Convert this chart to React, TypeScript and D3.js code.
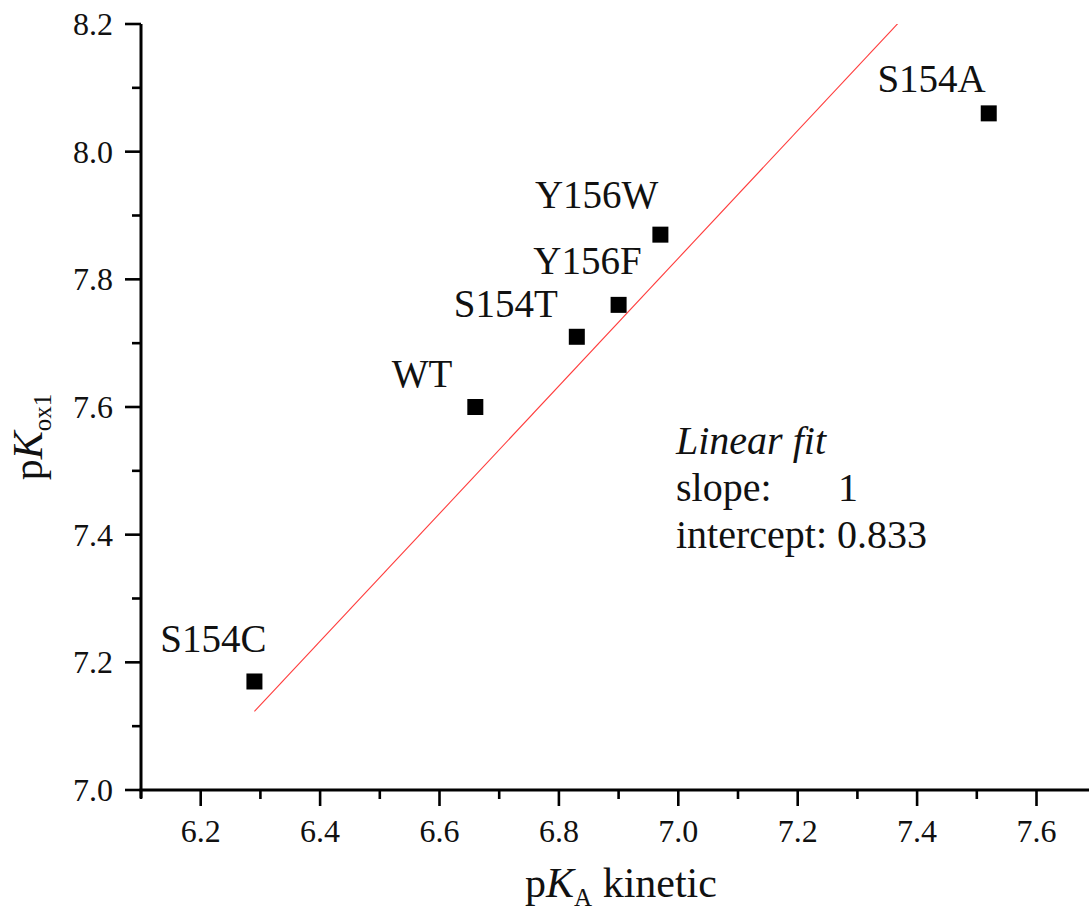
import React from "react";
import * as d3 from "d3";

const mutants = ["S154C", "WT", "S154T", "Y156F", "Y156W", "S154A"];
const pKaKinetic = [6.29, 6.66, 6.83, 6.9, 6.97, 7.52];
const pKox1 = [7.17, 7.6, 7.71, 7.76, 7.87, 8.06];
const xMajorTicks = [6.2, 6.4, 6.6, 6.8, 7.0, 7.2, 7.4, 7.6];
const xMinorTicks = [6.1, 6.3, 6.5, 6.7, 6.9, 7.1, 7.3, 7.5, 7.7];
const yMajorTicks = [7.0, 7.2, 7.4, 7.6, 7.8, 8.0, 8.2];
const yMinorTicks = [7.1, 7.3, 7.5, 7.7, 7.9, 8.1];
const fitSlope = 1;
const fitIntercept = 0.833;

// label offsets (text end relative to marker centre)
const labelDx = [12, -23, -19, 23, -2, -3];
const labelDy = [-29, -20, -20, -31, -27, -21];

const FONT = "'Liberation Serif', 'Times New Roman', Times, serif";

export default function App() {
  const W = 1089, H = 919;
  const x = d3.scaleLinear().domain([6.1, 7.7]).range([141, 141 + 1.6 * 597]);
  const y = d3.scaleLinear().domain([7.0, 8.2]).range([790, 24]);
  const x0 = x(6.1), y0 = y(7.0);

  const fx0 = d3.min(pKaKinetic) as number;
  const fx1 = d3.max(pKaKinetic) as number;
  const fitLine = d3.line<number>()
    .x((d) => x(d))
    .y((d) => y(fitSlope * d + fitIntercept))([fx0, fx1]);

  const ms = 16;
  return (
    <svg width={W} height={H} style={{ position: "absolute", left: 0, top: 0, background: "#fff" }} fontFamily={FONT}>
      <rect x={0} y={0} width={W} height={H} fill="#fff" />
      <defs>
        <clipPath id="plotClip">
          <rect x={x0} y={y(8.2)} width={W - x0} height={y0 - y(8.2)} />
        </clipPath>
      </defs>

      {/* fit line */}
      <path d={fitLine || ""} stroke="#ff3b3b" strokeWidth={1.1} fill="none" clipPath="url(#plotClip)" />

      {/* axes */}
      <line x1={x0} x2={x0} y1={y(8.2)} y2={y0 + 8} stroke="#000" strokeWidth={3} />
      <line x1={x0 - 1.5} x2={W + 20} y1={y0} y2={y0} stroke="#000" strokeWidth={3} />

      {xMajorTicks.map((t) => (
        <g key={"xM" + t}>
          <line x1={x(t)} x2={x(t)} y1={y0} y2={y0 + 16} stroke="#000" strokeWidth={2.6} />
          <text x={x(t)} y={842} fontSize={32} textAnchor="middle" fill="#111">{t.toFixed(1)}</text>
        </g>
      ))}
      {xMinorTicks.map((t) => (
        <line key={"xm" + t} x1={x(t)} x2={x(t)} y1={y0} y2={y0 + 9} stroke="#000" strokeWidth={2.6} />
      ))}
      {yMajorTicks.map((t) => (
        <g key={"yM" + t}>
          <line x1={x0 - 16} x2={x0} y1={y(t)} y2={y(t)} stroke="#000" strokeWidth={2.6} />
          <text x={113} y={y(t) + 11} fontSize={32} textAnchor="end" fill="#111">{t.toFixed(1)}</text>
        </g>
      ))}
      {yMinorTicks.map((t) => (
        <line key={"ym" + t} x1={x0 - 9} x2={x0} y1={y(t)} y2={y(t)} stroke="#000" strokeWidth={2.6} />
      ))}

      {/* markers */}
      {mutants.map((m, i) => (
        <rect key={"p" + m} x={x(pKaKinetic[i]) - ms / 2} y={y(pKox1[i]) - ms / 2} width={ms} height={ms} fill="#000" />
      ))}
      {mutants.map((m, i) => (
        <text key={"l" + m} x={x(pKaKinetic[i]) + labelDx[i]} y={y(pKox1[i]) + labelDy[i]}
          fontSize={39} textAnchor="end" fill="#111">{m}</text>
      ))}

      {/* annotation */}
      <text x={676} y={454} fontSize={40} fill="#111" fontStyle="italic">Linear fit</text>
      <text x={676} y={501} fontSize={40} fill="#111">slope:<tspan x={838}>{fitSlope}</tspan></text>
      <text x={676} y={548} fontSize={40} fill="#111">intercept: {fitIntercept}</text>

      {/* axis titles */}
      <text x={621} y={897} fontSize={42} textAnchor="middle" fill="#111">
        p<tspan fontStyle="italic">K</tspan><tspan fontSize={25} dy={9}>A</tspan><tspan dy={-9}> kinetic</tspan>
      </text>
      <text transform="translate(42,437) rotate(-90)" fontSize={42} textAnchor="middle" fill="#111">
        p<tspan fontStyle="italic">K</tspan><tspan fontSize={25} dy={9}>ox1</tspan>
      </text>
    </svg>
  );
}
